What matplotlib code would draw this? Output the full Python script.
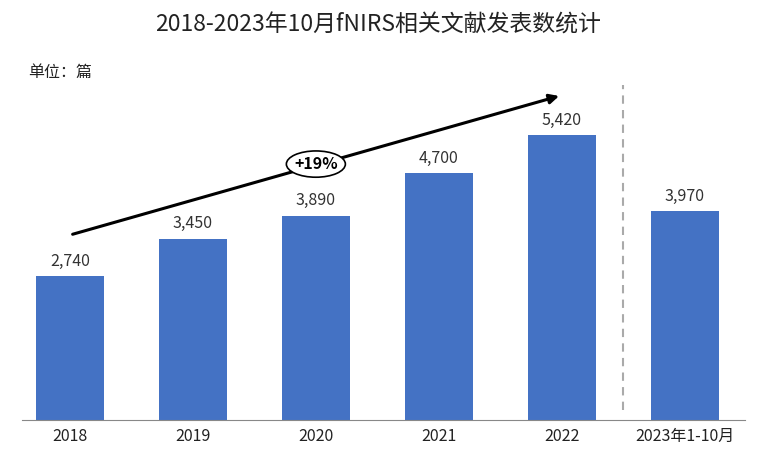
import matplotlib
matplotlib.use("Agg")
import matplotlib.pyplot as plt
from matplotlib.patches import Ellipse

plt.rcParams['font.family'] = ['Noto Sans CJK SC', 'DejaVu Sans']

years = ["2018", "2019", "2020", "2021", "2022", "2023年1-10月"]
counts = [2740, 3450, 3890, 4700, 5420, 3970]
growth = "+19%"

fig = plt.figure(figsize=(7.57, 4.5), dpi=100)
ax = fig.add_axes([22/757, 30/450, 723/757, 340/450])

x = list(range(len(years)))
ax.bar(x, counts, width=0.55, color="#4472C4")
for xi, v in zip(x, counts):
    ax.text(xi, v + 120, f"{v:,}", ha="center", va="bottom", fontsize=11.5, color="#333333")

ax.set_xlim(-0.39, 5.49)
ax.set_ylim(0, 6470)
ax.set_xticks(x)
ax.set_xticklabels(years, fontsize=11.5, color="#222222")
ax.tick_params(axis="x", length=0, pad=6)
ax.set_yticks([])
for s in ["top", "right", "left"]:
    ax.spines[s].set_visible(False)
ax.spines["bottom"].set_color("#888888")

# trend arrow
ax.annotate("", xy=(4.0, 6180), xytext=(0.0, 3520),
            arrowprops=dict(arrowstyle="-|>", color="black", lw=2.2, mutation_scale=14))
ax.add_patch(Ellipse((2.0, 4870), 0.48, 500, facecolor="white", edgecolor="black", lw=1.2, zorder=5))
ax.text(2.0, 4870, growth, ha="center", va="center", fontsize=11.5, fontweight="bold", zorder=6)

# divider
ax.plot([4.5, 4.5], [190, 6370], ls=(0, (4, 3)), color="#aaaaaa", lw=1.5)

fig.text(757 / 2, 450 - 25, "2018-2023年10月fNIRS相关文献发表数统计", transform=None,
         ha="center", va="center", fontsize=16.5, color="#222222")
fig.text(28, 450 - 72, "单位：篇", transform=None, ha="left", va="center", fontsize=11.5, color="#222222")

fig.savefig("out.png", dpi=100)
